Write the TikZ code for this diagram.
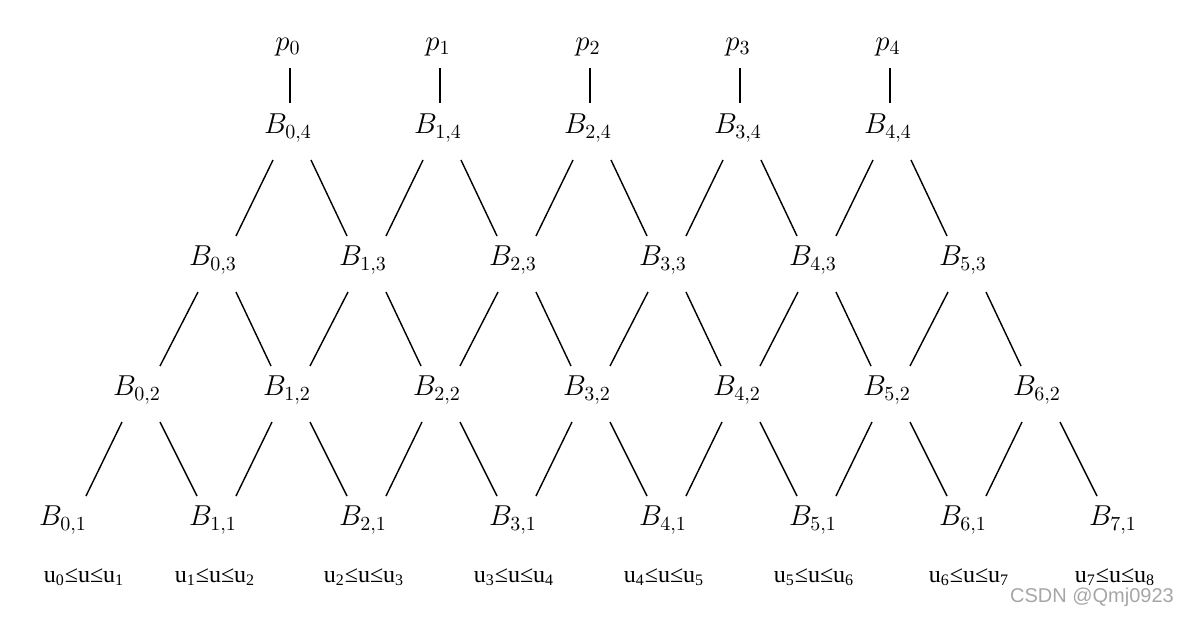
\documentclass[tikz,border=0pt]{standalone}
\usepackage{fontspec}
\usepackage{amsmath}
\newfontfamily\intfont{Liberation Serif}
\newfontfamily\wmfont{Liberation Sans}
\usetikzlibrary{calc}

\begin{document}
\begin{tikzpicture}[x=0.5pt, y=-0.5pt,
    lbl/.style={font=\Large, inner sep=0pt},
    intlbl/.style={font=\intfont\large, inner sep=0pt},
    edge/.style={line width=0.7pt}]
    \useasboundingbox (0,0) rectangle (1184,617);

    % control points and the de Boor rows
    \foreach \i in {0,...,4} \node[lbl] (p\i) at (288+150*\i,47) {$p_{\i}$};
    \foreach \i in {0,...,4} \node[lbl] (B\i4) at (288+150*\i,128) {$B_{\i,4}$};
    \foreach \i in {0,...,5} \node[lbl] (B\i3) at (213+150*\i,260) {$B_{\i,3}$};
    \foreach \i in {0,...,6} \node[lbl] (B\i2) at (137+150*\i,390) {$B_{\i,2}$};
    \foreach \i in {0,...,7} \node[lbl] (B\i1) at (63+150*\i,520) {$B_{\i,1}$};

    \foreach \i in {0,...,4}
        \draw[edge] ($(p\i.center)+(2,21)$) -- ($(B\i4.center)+(2,-25)$);

    \foreach \k in {2,3,4} {
        \pgfmathtruncatemacro\n{8-\k}
        \pgfmathtruncatemacro\m{\k-1}
        \foreach \i in {0,...,\n} {
            \pgfmathtruncatemacro\j{\i+1}
            \draw[edge] ($(B\i\k.center)+(-15,32)$) -- ($(B\i\m.center)+(23,-24)$);
            \draw[edge] ($(B\i\k.center)+(23,32)$) -- ($(B\j\m.center)+(-16,-24)$);
        }
    }

    % knot intervals
    \node[intlbl] (u0) at (84,577) {u\textsubscript{0}≤u≤u\textsubscript{1}};
    \node[intlbl] (u1) at (215,577) {u\textsubscript{1}≤u≤u\textsubscript{2}};
    \node[intlbl] (u2) at (364,577) {u\textsubscript{2}≤u≤u\textsubscript{3}};
    \node[intlbl] (u3) at (514,577) {u\textsubscript{3}≤u≤u\textsubscript{4}};
    \node[intlbl] (u4) at (664,577) {u\textsubscript{4}≤u≤u\textsubscript{5}};
    \node[intlbl] (u5) at (814,577) {u\textsubscript{5}≤u≤u\textsubscript{6}};
    \node[intlbl] (u6) at (969,577) {u\textsubscript{6}≤u≤u\textsubscript{7}};
    \node[intlbl] (u7) at (1115,577) {u\textsubscript{7}≤u≤u\textsubscript{8}};

    \node[font=\wmfont, text=gray!70, inner sep=0pt] (wm) at (1092,597) {CSDN @Qmj0923};
\end{tikzpicture}
\end{document}
